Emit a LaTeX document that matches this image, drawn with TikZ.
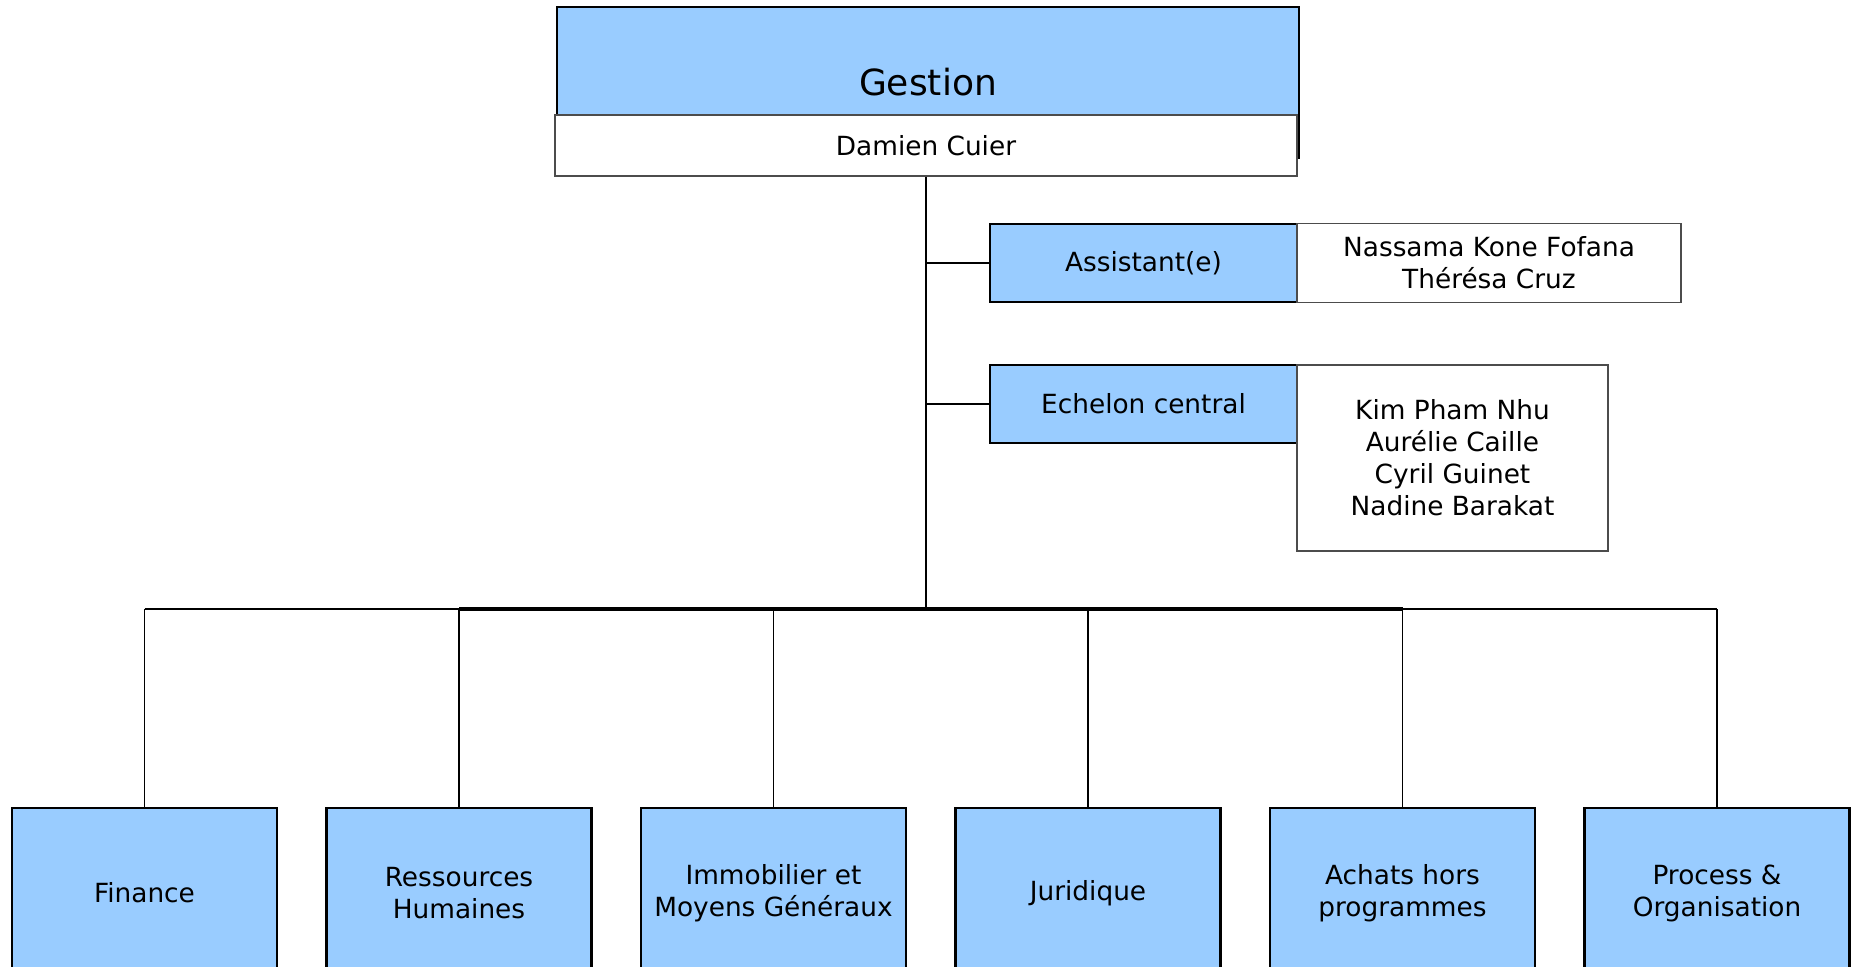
\documentclass[tikz,border=0pt]{standalone}
\usepackage{fontspec}
\setmainfont{DejaVu Sans}
\definecolor{bleuorg}{HTML}{99CCFF}

\begin{document}
\begin{tikzpicture}[node distance=6.29cm, every node/.style={font=\fontsize{15}{18.2}\selectfont},
        bleu/.style={draw, line width=1.1pt, fill=bleuorg, align=center, inner sep=2pt},
        blanc/.style={draw=black!70, line width=0.6pt, fill=white, align=center, inner sep=2pt},
        service/.style={bleu, line width=1.4pt, minimum width=5.3cm, minimum height=3.4cm},
        lien/.style={line width=0.9pt}]
        \path[use as bounding box, clip] (0,0) rectangle (37.14,-19.34);
        \node[bleu, minimum width=14.84cm, minimum height=3.02cm, font=\fontsize{20.5}{24}\selectfont] (gestion) at (18.56,-1.65) {Gestion};
        \node[blanc, minimum width=14.84cm, minimum height=1.22cm] (chef) at (18.52,-2.91) {Damien Cuier};
        \node[bleu, minimum width=6.14cm, minimum height=1.56cm] (asst) at (22.87,-5.26) {Assistant(e)};
        \node[blanc, right of=asst, xshift=0.62cm, minimum width=7.68cm, minimum height=1.58cm] (asstnoms) {Nassama Kone Fofana\\Thérésa Cruz};
        \node[bleu, minimum width=6.14cm, minimum height=1.56cm] (ech) at (22.87,-8.08) {Echelon central};
        \node[blanc, right of=ech, xshift=-0.11cm, yshift=-1.08cm, minimum width=6.22cm, minimum height=3.72cm] (echnoms) {Kim Pham Nhu\\Aurélie Caille\\Cyril Guinet\\Nadine Barakat};
        \coordinate (bus) at (18.52,-12.18);
        % services
        \node[service] (fin) at (2.89,-17.86) {Finance};
        \node[service, right of=fin] (rh) {Ressources\\Humaines};
        \node[service, right of=rh] (immo) {Immobilier et\\Moyens Généraux};
        \node[service, right of=immo] (jur) {Juridique};
        \node[service, right of=jur] (achats) {Achats hors\\programmes};
        \node[service, right of=achats] (proc) {Process \&\\Organisation};
        % liens
        \draw[lien, line width=1.4pt] (chef.south) -- (bus);
        \draw[lien] (asst.west) -- (asst.west -| bus);
        \draw[lien] (ech.west) -- (ech.west -| bus);
        \draw[lien] (bus -| fin.north) -- (bus -| proc.north);
        \draw[lien, line width=2pt] (bus -| rh.north) -- (bus -| achats.north);
        \draw[lien] (bus -| fin.north) -- (fin.north);
        \draw[lien] (bus -| rh.north) -- (rh.north);
        \draw[lien] (bus -| immo.north) -- (immo.north);
        \draw[lien] (bus -| jur.north) -- (jur.north);
        \draw[lien] (bus -| achats.north) -- (achats.north);
        \draw[lien] (bus -| proc.north) -- (proc.north);
    \end{tikzpicture}
\end{document}
